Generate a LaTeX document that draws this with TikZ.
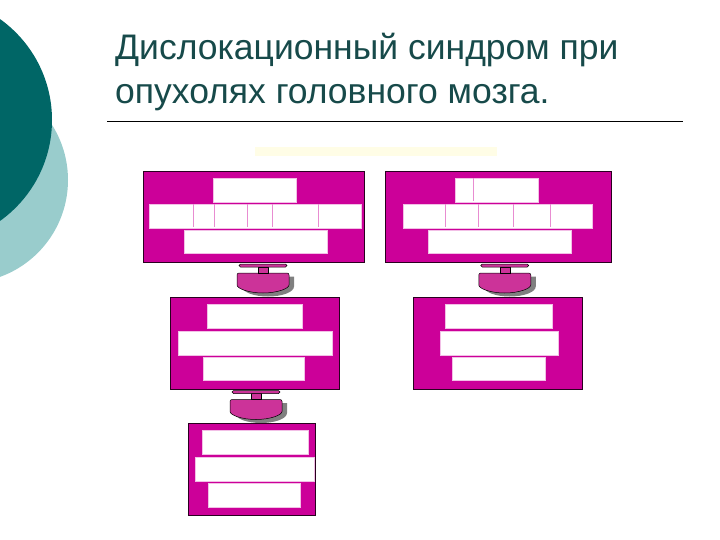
\documentclass[tikz,border=0pt]{standalone}
\usepackage{fontspec}
\setmainfont{Liberation Sans}
\usepackage{tikz}
\usetikzlibrary{calc,positioning}

\definecolor{tealdark}{RGB}{0,102,102}
\definecolor{teallight}{RGB}{153,204,204}
\definecolor{titlecol}{RGB}{23,74,74}
\definecolor{boxmag}{RGB}{204,0,153}
\definecolor{knobmag}{RGB}{204,51,153}
\definecolor{paleyel}{RGB}{255,253,230}

\tikzset{
  block/.style={draw=black!80!boxmag, line width=0.8pt, fill=boxmag, inner sep=0pt},
  cell/.style={fill=white, draw=boxmag!25, line width=0.4pt},
  divider/.style={draw=boxmag!45, line width=0.6pt},
  knob/.style={fill=knobmag, draw=black, line width=0.5pt},
  knobshadow/.style={fill=black!50, draw=none},
  titletext/.style={anchor=base west, text=titlecol, font=\fontsize{35.5}{44}\selectfont, inner sep=0pt}
}

% connector piece between two blocks, centred at #1
\newcommand{\plug}[1]{%
  \fill[knobshadow] ($(#1)+(-21,-3)$) -- ++(52,0) -- ++(0,10)
     arc[start angle=0, end angle=180, x radius=26, y radius=10] -- cycle;
  \draw[knob, rounded corners=2pt] ($(#1)+(-26,-6.5)$) -- ++(52,0) -- ++(0,10)
     arc[start angle=0, end angle=180, x radius=26, y radius=10] -- cycle;
  \draw[knob] ($(#1)+(-5,-12.5)$) rectangle ++(10,6);
  \draw[knob, rounded corners=1.5pt] ($(#1)+(-24,-15.5)$) rectangle ++(48,3);
}

\begin{document}
\begin{tikzpicture}[x=1pt, y=-1pt]
  \useasboundingbox (0,0) rectangle (720,540);

  % background circles
  \begin{scope}
    \clip (0,0) rectangle (720,540);
    \fill[teallight] (-35,180) circle (103);
    \fill[tealdark] (-72,120) circle (124);
  \end{scope}

  % title
  \node[titletext] (title1) at (115,60) {Дислокационный синдром при};
  \node[titletext] (title2) at (115,104) {опухолях головного мозга.};
  \draw[line width=0.6pt] (107,121) -- (683,121);

  \fill[paleyel] (255,147) rectangle (497,156);

  % blocks
  \node[block, minimum width=221, minimum height=91] (b1) at (253.5,216.5) {};
  \node[block, minimum width=226, minimum height=91] (b2) at (498,216.5) {};
  \node[block, minimum width=169, minimum height=92] (b3) at (254.5,343) {};
  \node[block, minimum width=169, minimum height=92] (b4) at (497.5,343) {};
  \node[block, minimum width=127, minimum height=92] (b5) at (251.5,469) {};

  % block 1
  \draw[cell] (213,178) rectangle (296,202);
  \draw[cell] (149,204) rectangle (361,228);
  \foreach \x in {193,214,247,272,318}
    \draw[divider] (\x,204.5) -- (\x,227.5);
  \draw[cell] (184,230) rectangle (327,253);

  % block 2
  \draw[cell] (455,178) rectangle (538,202);
  \draw[divider] (473,178.5) -- (473,201.5);
  \draw[cell] (403,204) rectangle (592,228);
  \foreach \x in {445,478,513,550}
    \draw[divider] (\x,204.5) -- (\x,227.5);
  \draw[cell] (428,230) rectangle (571,253);

  % block 3
  \draw[cell] (207,304) rectangle (302,328);
  \draw[cell] (178,331) rectangle (332,355);
  \draw[cell] (203,357) rectangle (304,380);

  % block 4
  \draw[cell] (445,304) rectangle (552,328);
  \draw[cell] (440,331) rectangle (558,355);
  \draw[cell] (452,357) rectangle (545,380);

  % block 5
  \draw[cell] (202,430) rectangle (308,454);
  \draw[cell] (195,457) rectangle (314,481);
  \draw[cell] (208,483) rectangle (300,507);

  % connectors
  \coordinate (p13) at ($(b1.south)!0.5!(b3.north)+(9,0)$);
  \coordinate (p24) at ($(b2.south)!0.5!(b4.north)+(7,0)$);
  \coordinate (p35) at ($(b3.south)!0.5!(b5.north)+(3,0)$);
  \plug{p13}
  \plug{p24}
  \plug{p35}
\end{tikzpicture}
\end{document}
